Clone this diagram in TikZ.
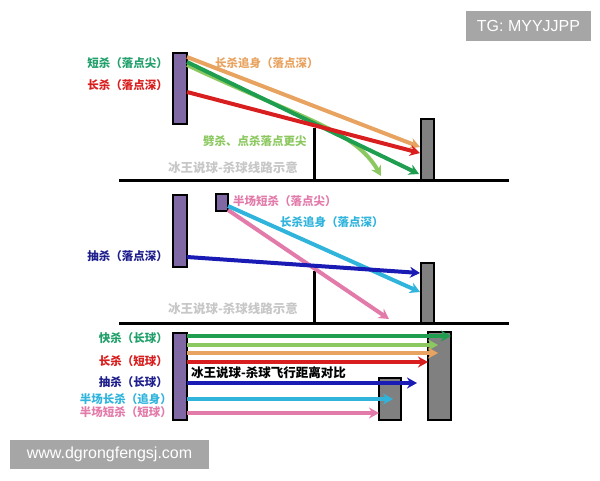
\documentclass[tikz,border=0pt]{standalone}
\usepackage{fontspec}
\newfontfamily\cjk{Noto Sans CJK SC}
\newfontfamily\wmfont{Liberation Sans}
\usepackage{tikz}
\usetikzlibrary{arrows.meta, positioning}
\definecolor{ShotGreen}{HTML}{1E9E4E}
\definecolor{LabelGreen}{HTML}{22A06B}
\definecolor{LightGreen}{HTML}{8CC860}
\definecolor{ShotOrange}{HTML}{E8A360}
\definecolor{ShotRed}{HTML}{D81E1E}
\definecolor{ShotBlue}{HTML}{1A1AB4}
\definecolor{LabelBlue}{HTML}{1E1E8C}
\definecolor{ShotCyan}{HTML}{30B4DC}
\definecolor{ShotPink}{HTML}{E27BAA}
\definecolor{RacketPurple}{HTML}{7F68A3}
\definecolor{WallGray}{HTML}{808080}
\definecolor{MarkGray}{HTML}{A6A6A6}
\tikzset{
  % Box styles
  racket/.style={rectangle, draw=black, line width=1.5pt, fill=RacketPurple, inner sep=0pt},
  wall/.style={rectangle, draw=black, line width=1.5pt, fill=WallGray, inner sep=0pt},
  markbox/.style={rectangle, fill=MarkGray, text=white, inner sep=0pt, font=\wmfont\fontsize{16}{16}\selectfont},
  % Text styles
  shotlabel/.style={inner sep=0pt, font=\cjk\bfseries\fontsize{11.5}{12}\selectfont},
  notelabel/.style={inner sep=0pt, anchor=west, text=black!22, font=\cjk\bfseries\fontsize{12.5}{13}\selectfont},
  % Line styles
  courtline/.style={line width=3pt, black},
  shot/.style={line width=4pt, -{Stealth[length=10pt, width=11pt]}},
  flatshot/.style={line width=3.5pt, -{Stealth[length=10pt, width=11pt]}}
}
\begin{document}
\begin{tikzpicture}[x=1pt, y=-1pt]
  \useasboundingbox (0,0) rectangle (600,480);

  % Court lines
  \draw[courtline] (119,180) coordinate (f1a) -- (509,180) coordinate (f1b);
  \draw[courtline] (119,323) coordinate (f2a) -- (509,323) coordinate (f2b);
  \draw[courtline] (314,128) coordinate (n1) -- (n1 |- f1a);
  \draw[courtline] (314,271) coordinate (n2) -- (n2 |- f2a);

  % Panel 1: smash lines
  \node[racket, minimum width=14, minimum height=71] (r1) at (180,88.5) {};
  \node[wall, minimum width=13, minimum height=61] (w1) at (427.5,149.5) {};
  \coordinate (s1a) at (187,57);  \coordinate (e1a) at (420,147);
  \coordinate (s1b) at (187,92);  \coordinate (e1b) at (420,153);
  \coordinate (s1c) at (187,62);  \coordinate (e1c) at (419,174);
  \coordinate (s1d) at (187,65);  \coordinate (e1d) at (381,176);
  \draw[shot, LightGreen] (s1d) .. controls (300,118) and (355,130) .. (e1d);
  \draw[shot, ShotGreen] (s1c) -- (e1c);
  \draw[shot, ShotOrange] (s1a) -- (e1a);
  \draw[shot, ShotRed] (s1b) -- (e1b);
  \node[shotlabel, anchor=east, text=LabelGreen] (l1a) at (168,63) {短杀（落点尖）};
  \node[shotlabel, anchor=east, text=ShotRed] (l1b) at (168,85) {长杀（落点深）};
  \node[shotlabel, anchor=west, text=ShotOrange] (l1c) at (215,63) {长杀追身（落点深）};
  \node[shotlabel, anchor=west, text=LightGreen] (l1d) at (203,141) {劈杀、点杀落点更尖};
  \node[notelabel] (m1) at (168,168) {冰王说球-杀球线路示意};

  % Panel 2: smash lines
  \node[racket, minimum width=14, minimum height=72] (r2) at (180,231) {};
  \node[racket, minimum width=12, minimum height=17] (r2s) at (222,202.5) {};
  \node[wall, minimum width=13, minimum height=60] (w2) at (427.5,293) {};
  \coordinate (s2a) at (228,210); \coordinate (e2a) at (389,319);
  \coordinate (s2b) at (228,206); \coordinate (e2b) at (420,292);
  \coordinate (s2c) at (187,257); \coordinate (e2c) at (420,273);
  \draw[shot, ShotPink] (s2a) -- (e2a);
  \draw[shot, ShotCyan] (s2b) -- (e2b);
  \draw[shot, ShotBlue] (s2c) -- (e2c);
  \node[shotlabel, anchor=west, text=ShotPink] (l2a) at (233,201) {半场短杀（落点尖）};
  \node[shotlabel, anchor=west, text=ShotCyan] (l2b) at (280,222) {长杀追身（落点深）};
  \node[shotlabel, anchor=east, text=LabelBlue] (l2c) at (168,256) {抽杀（落点深）};
  \node[notelabel] (m2) at (168,309) {冰王说球-杀球线路示意};

  % Panel 3: flight distance
  \node[racket, minimum width=14, minimum height=87] (r3) at (180,376.5) {};
  \node[wall, minimum width=23, minimum height=88] (w3) at (439.5,376) {};
  \node[wall, minimum width=22, minimum height=42] (w3s) at (390,399) {};
  \draw[flatshot, ShotGreen] (187,336) -- (451,336);
  \draw[flatshot, LightGreen] (187,345) -- (438,345);
  \draw[flatshot, ShotOrange] (187,353) -- (438,353);
  \draw[flatshot, ShotRed] (187,362) -- (428,362);
  \draw[flatshot, ShotBlue] (187,383) -- (417,383);
  \draw[flatshot, ShotCyan] (187,399) -- (393,399);
  \draw[flatshot, ShotPink] (187,413) -- (379,413);
  \node[shotlabel, anchor=east, text=LabelGreen] (l3a) at (168,338) {快杀（长球）};
  \node[shotlabel, anchor=east, text=ShotRed] (l3b) at (168,361) {长杀（短球）};
  \node[shotlabel, anchor=east, text=LabelBlue] (l3c) at (168,382) {抽杀（长球）};
  \node[shotlabel, anchor=east, text=ShotCyan] (l3d) at (172,399) {半场长杀（追身）};
  \node[shotlabel, anchor=east, text=ShotPink] (l3e) at (172,412) {半场短杀（短球）};
  \node[shotlabel, anchor=west, text=black, font=\cjk\bfseries\fontsize{12.5}{13}\selectfont] (t3) at (191,373) {冰王说球-杀球飞行距离对比};

  % Marks
  \node[markbox, minimum width=125, minimum height=30] (tg) at (528.5,26) {TG: MYYJJPP};
  \node[markbox, minimum width=199, minimum height=29] (www) at (109.5,454.5) {www.dgrongfengsj.com};
\end{tikzpicture}
\end{document}
